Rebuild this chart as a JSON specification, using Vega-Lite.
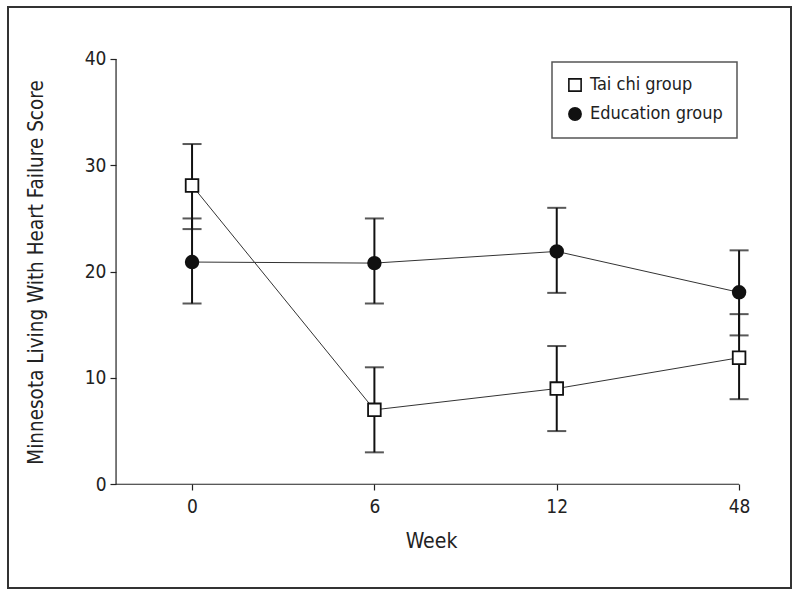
{
  "$schema": "https://vega.github.io/schema/vega-lite/v6.json",
  "autosize": {"type": "none"},
  "padding": {"left": 8, "top": 7, "right": 9, "bottom": 9},
  "width": 783,
  "height": 581,
  "background": "white",
  "config": {
    "view": {"stroke": "#333333", "strokeWidth": 2},
    "font": "DejaVu Sans Condensed, DejaVu Sans, sans-serif",
    "axis": {"grid": false, "domain": false, "tickColor": "#222222", "tickWidth": 1.2, "tickSize": 6, "labelColor": "#222222", "titleColor": "#222222", "labelFont": "DejaVu Sans Condensed, DejaVu Sans, sans-serif", "titleFont": "DejaVu Sans Condensed, DejaVu Sans, sans-serif", "titleFontWeight": "normal"},
    "legend": {"labelFont": "DejaVu Sans Condensed, DejaVu Sans, sans-serif", "labelFontSize": 18, "labelColor": "#222222", "labelOffset": 6, "padding": 14, "rowPadding": 9, "strokeColor": "#555555", "strokeWidth": 1.5, "fillColor": "#ffffff", "symbolSize": 150, "symbolStrokeWidth": 1.6}
  },
  "data": {
    "values": [
      {"group": "Tai chi group", "week": 0, "mean": 28.1, "lower": 24, "upper": 32},
      {"group": "Tai chi group", "week": 6, "mean": 7.0, "lower": 3, "upper": 11},
      {"group": "Tai chi group", "week": 12, "mean": 9.0, "lower": 5, "upper": 13},
      {"group": "Tai chi group", "week": 48, "mean": 11.9, "lower": 8, "upper": 16},
      {"group": "Education group", "week": 0, "mean": 20.9, "lower": 17, "upper": 25},
      {"group": "Education group", "week": 6, "mean": 20.8, "lower": 17, "upper": 25},
      {"group": "Education group", "week": 12, "mean": 21.9, "lower": 18, "upper": 26},
      {"group": "Education group", "week": 48, "mean": 18.05, "lower": 14, "upper": 22}
    ]
  },
  "encoding": {
    "x": {
      "field": "week", "type": "ordinal",
      "scale": {"type": "point", "domain": [0, 6, 12, 48], "padding": 0.647, "align": 0.78},
      "axis": {
        "title": "Week", "labelAngle": 0, "labelFontSize": 19, "labelPadding": 7,
        "titleFontSize": 21, "titleX": 423, "titleY": 63, "titleBaseline": "alphabetic",
        "offset": -104
      }
    }
  },
  "layer": [
    {
      "data": {"values": [{}]},
      "mark": {"type": "rule", "stroke": "#222222", "strokeWidth": 1.2, "xOffset": -76},
      "encoding": {
        "x": {"datum": 0, "type": "ordinal"},
        "y": {"datum": 0, "type": "quantitative"},
        "y2": {"datum": 40}
      }
    },
    {
      "data": {"values": [{}]},
      "mark": {"type": "rule", "stroke": "#222222", "strokeWidth": 1.2, "xOffset": -76},
      "encoding": {
        "x": {"datum": 0, "type": "ordinal"},
        "x2": {"datum": 48},
        "y": {"datum": 0, "type": "quantitative"}
      }
    },
    {
      "mark": {"type": "line", "stroke": "#333333", "strokeWidth": 1},
      "encoding": {
        "y": {
          "field": "mean", "type": "quantitative",
          "scale": {"domain": [-9.76, 44.89], "nice": false, "zero": false},
          "axis": {
            "title": "Minnesota Living With Heart Failure Score",
            "values": [0, 10, 20, 30, 40], "labelFontSize": 19, "labelPadding": 4,
            "titleFontSize": 20.5, "titleX": -70, "titleY": 265, "titleAngle": 270, "titleBaseline": "bottom",
            "offset": -108
          }
        },
        "detail": {"field": "group"}
      }
    },
    {
      "mark": {"type": "rule", "stroke": "#111111", "strokeWidth": 2},
      "encoding": {"y": {"field": "lower", "type": "quantitative"}, "y2": {"field": "upper"}}
    },
    {
      "mark": {"type": "tick", "color": "#111111", "size": 19, "thickness": 2, "orient": "horizontal"},
      "encoding": {"y": {"field": "lower", "type": "quantitative"}}
    },
    {
      "mark": {"type": "tick", "color": "#111111", "size": 19, "thickness": 2, "orient": "horizontal"},
      "encoding": {"y": {"field": "upper", "type": "quantitative"}}
    },
    {
      "mark": {"type": "point", "filled": true, "strokeWidth": 1.8, "opacity": 1, "size": 160},
      "encoding": {
        "y": {"field": "mean", "type": "quantitative"},
        "shape": {"field": "group", "type": "nominal", "title": null,
          "scale": {"domain": ["Tai chi group", "Education group"], "range": ["square", "circle"]},
          "legend": {"orient": "none", "legendX": 544, "legendY": 55, "title": null}},
        "fill": {"field": "group", "type": "nominal", "title": null,
          "scale": {"domain": ["Tai chi group", "Education group"], "range": ["#ffffff", "#111111"]},
          "legend": {"orient": "none", "legendX": 544, "legendY": 55, "title": null}},
        "stroke": {"field": "group", "type": "nominal", "title": null,
          "scale": {"domain": ["Tai chi group", "Education group"], "range": ["#111111", "#111111"]},
          "legend": {"orient": "none", "legendX": 544, "legendY": 55, "title": null}}
      }
    }
  ]
}
